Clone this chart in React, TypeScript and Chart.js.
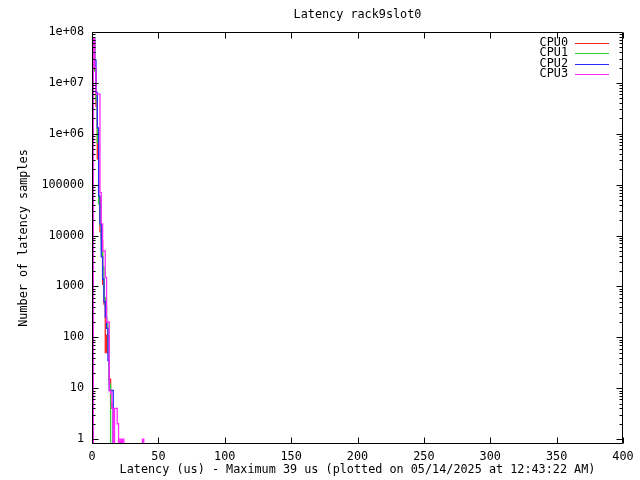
import React, { useEffect, useRef } from "react";
import { Chart, registerables } from "chart.js";

Chart.register(...registerables);

const TITLE = "Latency rack9slot0";
const X_TITLE = "Latency (us) - Maximum 39 us (plotted on 05/14/2025 at 12:43:22 AM)";
const Y_TITLE = "Number of latency samples";

const LATENCY_US = [
  0, 1, 2, 3, 4, 5, 6, 7, 8, 9, 10, 11, 12, 13, 14, 15, 16, 17, 18, 19,
  20, 21, 22, 23, 24, 25, 26, 27, 28, 29, 30, 31, 32, 33, 34, 35, 36, 37, 38, 39,
];

const CPU0 = [
  0, 6.8e7, 1.8e7, 3.5e6, 3.2e5, 5.5e4, 1.2e4, 8e3, 1.1e3, 450, 50, 110, 100, 15, 5, 4, 0, 0, 0, 0,
  0, 0, 0, 0, 0, 0, 0, 0, 0, 0, 0, 0, 0, 0, 0, 0, 0, 0, 0, 0,
];
const CPU1 = [
  0, 7e7, 1.7e7, 4.5e6, 6.7e5, 4.2e4, 1.6e4, 5e3, 2.4e3, 600, 400, 190, 50, 12, 0, 0, 0, 0, 0, 0,
  0, 0, 0, 0, 0, 0, 0, 0, 0, 0, 0, 0, 0, 0, 0, 0, 0, 0, 0, 0,
];
const CPU2 = [
  0, 7.2e7, 2.8e7, 6.5e6, 1.3e6, 6e4, 1.7e4, 3.8e3, 1.4e3, 500, 250, 150, 35, 9, 9, 9, 0, 0, 0, 0,
  0, 0, 0, 0, 0, 0, 0, 0, 0, 0, 0, 0, 0, 0, 0, 0, 0, 0, 0, 0,
];
const CPU3 = [
  0, 7.4e7, 2e7, 6e6, 6e6, 6e6, 7e4, 1.7e4, 5e3, 5e3, 1.5e3, 200, 200, 9, 8, 4, 0, 4, 4, 2,
  0, 1, 0, 1, 0, 0, 0, 0, 0, 0, 0, 0, 0, 0, 0, 0, 0, 0, 1, 0,
];

const SERIES_NAMES = ["CPU0", "CPU1", "CPU2", "CPU3"];
const SERIES_VALUES = [CPU0, CPU1, CPU2, CPU3];
const SERIES_COLORS = ["#ff2020", "#30d030", "#2828ff", "#ff28ff"];

const X_TICKS = [0, 50, 100, 150, 200, 250, 300, 350, 400];
const Y_TICKS = [1, 10, 100, 1000, 10000, 100000, 1e6, 1e7, 1e8];
const Y_TICK_LABELS = ["1", "10", "100", "1000", "10000", "100000", "1e+06", "1e+07", "1e+08"];
const Y_MINOR_MULTIPLIERS = [2, 3, 4, 5, 6, 7, 8, 9];
// zero counts cannot be shown on a log axis; they are drawn at a floor below the visible range (clipped)
const ZERO_FLOOR = 0.1;

const FONT_FAMILY = "'DejaVu Sans Mono', 'Liberation Mono', monospace";
const FONT_SIZE = 11.8;

const gnuplotFrame = {
  id: "gnuplotFrame",
  afterDatasetsDraw(chart: any) {
    const { ctx, chartArea: a, scales } = chart;
    const xs = scales.x;
    const ys = scales.y;
    const L = Math.round(a.left) + 0.5;
    const R = Math.round(a.right) - 0.5;
    const T = Math.round(a.top) + 0.5;
    const B = Math.round(a.bottom) - 0.5;
    ctx.save();
    ctx.strokeStyle = "#000";
    ctx.lineWidth = 1;
    ctx.beginPath();
    ctx.rect(L, T, R - L, B - T);
    X_TICKS.forEach((v) => {
      const px = Math.round(xs.getPixelForValue(v)) + 0.5;
      ctx.moveTo(px, B);
      ctx.lineTo(px, B - 6);
      ctx.moveTo(px, T);
      ctx.lineTo(px, T + 6);
    });
    Y_TICKS.forEach((v, i) => {
      const py = Math.round(ys.getPixelForValue(v)) + 0.5;
      ctx.moveTo(L, py);
      ctx.lineTo(L + 6, py);
      ctx.moveTo(R, py);
      ctx.lineTo(R - 6, py);
      if (i < Y_TICKS.length - 1) {
        Y_MINOR_MULTIPLIERS.forEach((m) => {
          const my = Math.round(ys.getPixelForValue(v * m)) + 0.5;
          ctx.moveTo(L, my);
          ctx.lineTo(L + 3, my);
          ctx.moveTo(R, my);
          ctx.lineTo(R - 3, my);
        });
      }
    });
    ctx.stroke();

    ctx.fillStyle = "#000";
    ctx.font = `${FONT_SIZE}px ${FONT_FAMILY}`;
    ctx.textAlign = "center";
    ctx.textBaseline = "middle";
    const cx = (a.left + a.right) / 2;
    ctx.fillText(TITLE, cx, 15);
    ctx.fillText(X_TITLE, cx, 470);
    ctx.save();
    ctx.translate(24, (a.top + a.bottom) / 2);
    ctx.rotate(-Math.PI / 2);
    ctx.fillText(Y_TITLE, 0, 0);
    ctx.restore();

    SERIES_NAMES.forEach((name, i) => {
      const y = 42.5 + i * 10.6;
      ctx.textAlign = "right";
      ctx.fillStyle = "#000";
      ctx.fillText(name, 568, y);
      ctx.strokeStyle = SERIES_COLORS[i];
      ctx.beginPath();
      const ly = Math.round(y) + 0.5;
      ctx.moveTo(575, ly);
      ctx.lineTo(609, ly);
      ctx.stroke();
    });
    ctx.restore();
  },
};

export default function App() {
  const canvasRef = useRef<HTMLCanvasElement | null>(null);

  useEffect(() => {
    const canvas = canvasRef.current;
    if (!canvas) return;
    const datasets = SERIES_NAMES.map((name, s) => ({
      label: name,
      data: LATENCY_US.map((x, i) => {
        const v = SERIES_VALUES[s][i];
        return { x, y: v > 0 ? v : ZERO_FLOOR };
      }),
      borderColor: SERIES_COLORS[s],
      backgroundColor: SERIES_COLORS[s],
      borderWidth: 1.3,
      pointRadius: 0,
      fill: false,
      stepped: true,
      tension: 0,
      order: SERIES_NAMES.length - s,
    }));
    const chart = new Chart(canvas, {
      type: "line",
      data: { datasets },
      options: {
        responsive: false,
        animation: false,
        devicePixelRatio: 1,
        layout: { padding: { top: 32, right: 17, left: 0, bottom: 0 } },
        plugins: {
          legend: { display: false },
          title: { display: false },
          tooltip: { enabled: false },
        },
        scales: {
          x: {
            type: "linear",
            min: 0,
            max: 400,
            afterBuildTicks: (s: any) => {
              s.ticks = X_TICKS.map((v) => ({ value: v }));
            },
            grid: { display: false, drawTicks: false },
            border: { display: false },
            ticks: {
              color: "#000",
              font: { family: FONT_FAMILY, size: FONT_SIZE },
              padding: 6,
              maxRotation: 0,
              autoSkip: false,
            },
            afterFit: (s: any) => {
              s.height = 36;
            },
          },
          y: {
            type: "logarithmic",
            min: 0.8,
            max: 1e8,
            afterBuildTicks: (s: any) => {
              s.ticks = Y_TICKS.map((v) => ({ value: v }));
            },
            grid: { display: false, drawTicks: false },
            border: { display: false },
            ticks: {
              color: "#000",
              font: { family: FONT_FAMILY, size: FONT_SIZE },
              padding: 8,
              autoSkip: false,
              callback: (v: any) => {
                const i = Y_TICKS.indexOf(Number(v));
                return i >= 0 ? Y_TICK_LABELS[i] : "";
              },
            },
            afterFit: (s: any) => {
              s.width = 92;
            },
          },
        },
      } as any,
      plugins: [gnuplotFrame],
    });
    return () => chart.destroy();
  }, []);

  return (
    <div style={{ position: "absolute", left: 0, top: 0, width: 640, height: 480, background: "#fff" }}>
      <canvas ref={canvasRef} width={640} height={480} style={{ display: "block" }} />
    </div>
  );
}
